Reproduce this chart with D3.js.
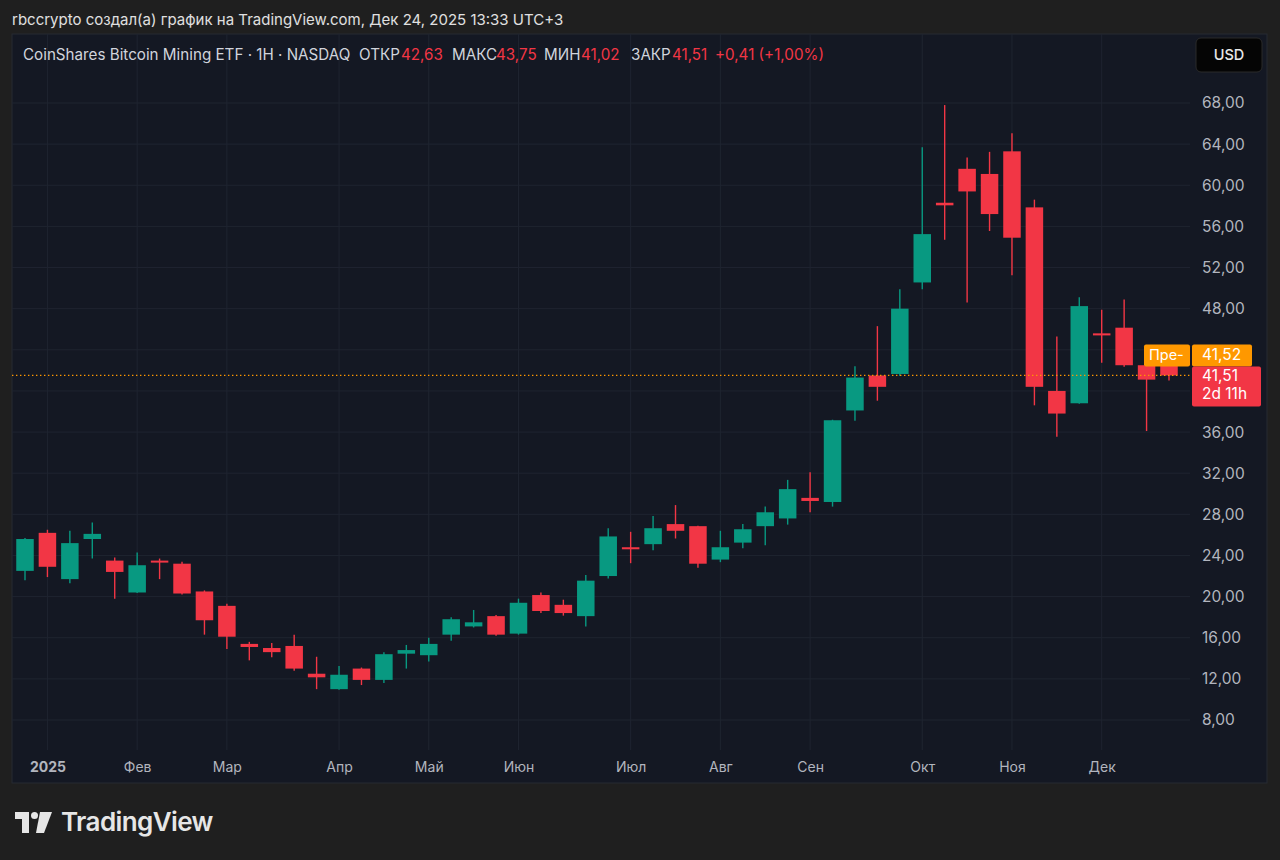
<!DOCTYPE html>
<html lang="ru">
<head>
<meta charset="UTF-8">
<title>CoinShares Bitcoin Mining ETF</title>
<style>
  html, body { margin: 0; padding: 0; background: #1f1f1f; }
  svg { display: block; }
  text { font-family: Inter, "Noto Sans", sans-serif; }
</style>
</head>
<body>
<script src="https://cdn.jsdelivr.net/npm/d3@7/dist/d3.min.js"></script>
<script>
  // недельные свечи (понедельник)
  const weeks = [
    '2024-12-30', '2025-01-06', '2025-01-13', '2025-01-20', '2025-01-27', '2025-02-03',
    '2025-02-10', '2025-02-17', '2025-02-24', '2025-03-03', '2025-03-10', '2025-03-17',
    '2025-03-24', '2025-03-31', '2025-04-07', '2025-04-14', '2025-04-21', '2025-04-28',
    '2025-05-05', '2025-05-12', '2025-05-19', '2025-05-26', '2025-06-02', '2025-06-09',
    '2025-06-16', '2025-06-23', '2025-06-30', '2025-07-07', '2025-07-14', '2025-07-21',
    '2025-07-28', '2025-08-04', '2025-08-11', '2025-08-18', '2025-08-25', '2025-09-01',
    '2025-09-08', '2025-09-15', '2025-09-22', '2025-09-29', '2025-10-06', '2025-10-13',
    '2025-10-20', '2025-10-27', '2025-11-03', '2025-11-10', '2025-11-17', '2025-11-24',
    '2025-12-01', '2025-12-08', '2025-12-15', '2025-12-22'
  ]
  const open = [22.5, 26.2, 21.7, 25.6, 23.5, 20.4, 23.5, 23.2, 20.5, 19.1, 15.4, 15.0, 15.2,
    12.5, 11.0, 13.0, 11.9, 14.45, 14.3, 16.3, 17.1, 18.1, 16.4, 20.15, 19.2, 18.1,
    22.0, 24.8, 25.1, 27.05, 26.85, 23.6, 25.25, 26.85, 27.6, 29.6, 29.2, 38.1, 41.5,
    41.65, 50.55, 58.3, 61.6, 61.1, 63.3, 57.85, 40.0, 38.8, 45.6, 46.15, 42.5, 42.63]
  const high = [25.7, 26.5, 26.4, 27.2, 23.8, 24.3, 23.7, 23.4, 20.6, 19.3, 15.6, 15.5, 16.3,
    14.15, 13.25, 13.1, 14.6, 15.3, 16.0, 18.0, 18.7, 18.2, 19.8, 20.4, 19.7, 22.1,
    26.65, 26.3, 27.85, 28.9, 26.9, 26.4, 27.05, 28.75, 31.35, 32.1, 37.2, 42.4, 46.3,
    49.9, 63.7, 67.8, 62.7, 63.25, 65.05, 58.6, 45.3, 49.1, 47.9, 48.9, 42.6, 43.75]
  const low = [21.6, 21.9, 21.3, 23.7, 19.8, 20.35, 21.7, 20.2, 16.3, 14.9, 13.8, 14.1, 12.8,
    11.0, 10.95, 11.4, 11.6, 13.0, 13.7, 15.7, 17.0, 16.2, 16.3, 18.4, 18.15, 17.1,
    21.75, 23.25, 24.5, 25.65, 22.8, 23.35, 24.7, 25.0, 27.0, 28.2, 28.75, 37.1, 39.05,
    41.45, 49.9, 54.7, 48.6, 55.55, 51.25, 38.6, 35.55, 38.75, 42.75, 42.35, 36.1, 41.02]
  const close = [25.6, 22.9, 25.2, 26.1, 22.4, 23.05, 23.35, 20.3, 17.7, 16.1, 15.1, 14.6, 13.0,
    12.15, 12.4, 11.9, 14.4, 14.8, 15.4, 17.8, 17.5, 16.3, 19.4, 18.6, 18.4, 21.55,
    25.85, 24.6, 26.65, 26.4, 23.2, 24.8, 26.55, 28.2, 30.45, 29.3, 37.15, 41.3, 40.4,
    48.0, 55.25, 58.05, 59.4, 57.2, 54.9, 40.4, 37.8, 48.25, 45.4, 42.5, 41.1, 41.51]

  const monthDates = ['2025-01-06', '2025-02-03', '2025-03-03', '2025-04-07', '2025-05-05', '2025-06-02',
    '2025-07-07', '2025-08-04', '2025-09-01', '2025-10-06', '2025-11-03', '2025-12-01']
  const monthLabels = ['2025', 'Фев', 'Мар', 'Апр', 'Май', 'Июн', 'Июл', 'Авг', 'Сен', 'Окт', 'Ноя', 'Дек']
  const priceTicks = [8, 12, 16, 20, 24, 28, 32, 36, 40, 44, 48, 52, 56, 60, 64, 68]
  const lastPrice = 41.51
  const prePrice = 41.52

  const W = 1280, H = 860
  const pane = { left: 12, top: 34, right: 1267, bottom: 783 }
  const plotRight = 1190, plotBottom = 750

  const up = '#089981', down = '#f23645'
  const textCol = '#b2b5be'

  const ru = d3.formatLocale({ decimal: ',', thousands: ' ', grouping: [3], currency: ['', ''] })
  const fmt = ru.format('.2f')

  const x = d3.scalePoint().domain(weeks).range([25, 1169])
  const y = d3.scaleLinear().domain([8, 68]).range([720, 103])
  const bodyW = 17.5

  const candles = weeks.map((d, i) => ({ d, o: open[i], h: high[i], l: low[i], c: close[i] }))

  const svg = d3.select('body').append('svg')
    .attr('width', W).attr('height', H)

  svg.append('rect').attr('width', W).attr('height', H).attr('fill', '#1f1f1f')

  // шапка
  svg.append('text')
    .attr('x', 12).attr('y', 25)
    .attr('fill', '#e0e0e0').attr('font-size', 15)
    .text('rbccrypto создал(а) график на TradingView.com, Дек 24, 2025 13:33 UTC+3')

  // панель графика
  svg.append('rect')
    .attr('x', pane.left).attr('y', pane.top)
    .attr('width', pane.right - pane.left).attr('height', pane.bottom - pane.top)
    .attr('fill', '#141823').attr('stroke', '#262a33')

  // сетка
  svg.append('g').selectAll('line').data(priceTicks).join('line')
    .attr('x1', pane.left).attr('x2', plotRight)
    .attr('y1', d => y(d)).attr('y2', d => y(d))
    .attr('stroke', '#1f2430').attr('stroke-width', 1)

  svg.append('g').selectAll('line').data(monthDates).join('line')
    .attr('x1', d => x(d)).attr('x2', d => x(d))
    .attr('y1', pane.top).attr('y2', plotBottom)
    .attr('stroke', '#1f2430').attr('stroke-width', 1)

  // ось цен (40 и 44 закрыты метками цены)
  const yAxis = svg.append('g')
    .attr('transform', `translate(${plotRight},0)`)
    .call(d3.axisRight(y).tickValues(priceTicks.filter(d => d !== 40 && d !== 44)).tickFormat(fmt).tickSize(0).tickPadding(12))
  yAxis.select('.domain').remove()
  yAxis.selectAll('text')
    .attr('fill', textCol).attr('font-size', 15.5)
    .attr('font-family', 'Inter, sans-serif')

  // ось времени
  const xAxis = svg.append('g')
    .attr('transform', `translate(0,${plotBottom})`)
    .call(d3.axisBottom(x).tickValues(monthDates).tickFormat((d, i) => monthLabels[i]).tickSize(0).tickPadding(12))
  xAxis.select('.domain').remove()
  xAxis.selectAll('text')
    .attr('fill', textCol).attr('font-size', 14)
    .attr('font-family', 'Inter, sans-serif')
    .attr('font-weight', (d, i) => i === 0 ? 700 : 400)

  // свечи
  const g = svg.append('g')
  g.selectAll('line.wick').data(candles).join('line')
    .attr('class', 'wick')
    .attr('x1', d => x(d.d)).attr('x2', d => x(d.d))
    .attr('y1', d => y(d.h)).attr('y2', d => y(d.l))
    .attr('stroke', d => d.c >= d.o ? up : down)
    .attr('stroke-width', 1.4)

  g.selectAll('rect.body').data(candles).join('rect')
    .attr('class', 'body')
    .attr('x', d => x(d.d) - bodyW / 2)
    .attr('width', bodyW)
    .attr('y', d => y(Math.max(d.o, d.c)))
    .attr('height', d => Math.max(2, Math.abs(y(d.o) - y(d.c))))
    .attr('fill', d => d.c >= d.o ? up : down)

  // линия последней цены
  svg.append('line')
    .attr('x1', pane.left).attr('x2', plotRight)
    .attr('y1', y(lastPrice)).attr('y2', y(lastPrice))
    .attr('stroke', '#ff9800').attr('stroke-width', 1.4)
    .attr('stroke-dasharray', '1.4,2.6')

  // метки цены: предрыночная над последней
  const yl = y(lastPrice)
  const yo = yl - 31
  svg.append('rect').attr('x', 1144).attr('y', yo).attr('width', 46).attr('height', 22)
    .attr('rx', 2).attr('fill', '#ff9800')
  svg.append('text').attr('x', 1149).attr('y', yo + 16)
    .attr('fill', '#fff').attr('font-size', 14.5).text('Пре-')
  svg.append('rect').attr('x', 1192).attr('y', yo).attr('width', 60).attr('height', 22)
    .attr('rx', 2).attr('fill', '#ff9800')
  svg.append('text').attr('x', 1202).attr('y', yo + 16)
    .attr('fill', '#fff').attr('font-size', 15.5).text(fmt(prePrice))

  svg.append('rect').attr('x', 1192).attr('y', yl - 9).attr('width', 69).attr('height', 40)
    .attr('rx', 2).attr('fill', down)
  svg.append('text').attr('x', 1202).attr('y', yl + 5.5)
    .attr('fill', '#fff').attr('font-size', 15.5).text(fmt(lastPrice))
  svg.append('text').attr('x', 1202).attr('y', yl + 24)
    .attr('fill', '#fff').attr('font-size', 15.5).text('2d 11h')

  // легенда
  const legend = [
    { x: 23, t: 'CoinShares Bitcoin Mining ETF · 1H · NASDAQ', c: '#d1d4dc' },
    { x: 359, t: 'ОТКР', c: '#d1d4dc' }, { x: 401, t: '42,63', c: down },
    { x: 452, t: 'МАКС', c: '#d1d4dc' }, { x: 496, t: '43,75', c: down },
    { x: 544, t: 'МИН', c: '#d1d4dc' }, { x: 581, t: '41,02', c: down },
    { x: 631, t: 'ЗАКР', c: '#d1d4dc' }, { x: 672, t: '41,51', c: down },
    { x: 715, t: '+0,41 (+1,00%)', c: down }
  ]
  svg.append('g').selectAll('text').data(legend).join('text')
    .attr('x', d => d.x).attr('y', 60)
    .attr('fill', d => d.c).attr('font-size', 15.2)
    .text(d => d.t)

  // кнопка USD
  svg.append('rect').attr('x', 1196).attr('y', 38).attr('width', 66).attr('height', 34)
    .attr('rx', 5).attr('fill', '#050505').attr('stroke', '#2a2a2a')
  svg.append('text').attr('x', 1229).attr('y', 60).attr('text-anchor', 'middle')
    .attr('fill', '#e8e8e8').attr('font-size', 14.5).attr('font-weight', 500).text('USD')

  // логотип TradingView
  const logo = svg.append('g').attr('fill', '#e6e6e6')
  logo.append('path').attr('d', 'M15,812 H29 V833 H22 V819 H15 Z')
  logo.append('circle').attr('cx', 34.5).attr('cy', 815.5).attr('r', 3.5)
  logo.append('path').attr('d', 'M40,812 H52 L44,833 H36 Z')
  svg.append('text').attr('x', 61).attr('y', 831)
    .attr('fill', '#e6e6e6').attr('font-size', 26).attr('font-weight', 600)
    .attr('letter-spacing', -0.6).text('TradingView')
</script>
</body>
</html>
